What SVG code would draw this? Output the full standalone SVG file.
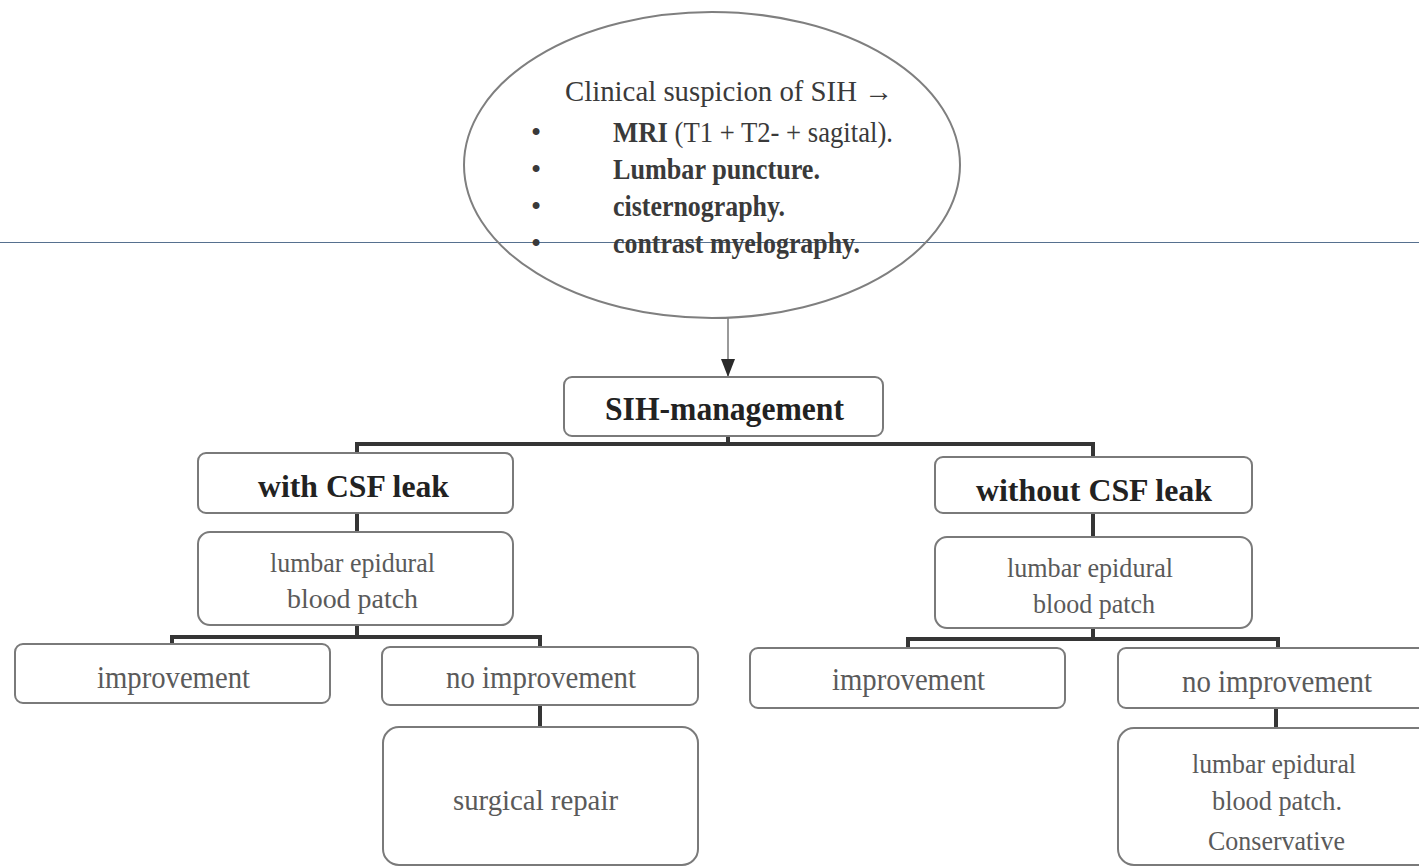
<svg xmlns="http://www.w3.org/2000/svg" width="1419" height="867" viewBox="0 0 1419 867">
<style>
.box{fill:#fff;stroke:#7a7a7a;stroke-width:2}
.conn{fill:none;stroke:#353535;stroke-width:4;stroke-linecap:square}
.t{font-family:"Liberation Serif","Times New Roman",serif}
.b{font-weight:bold;fill:#222}
.r{fill:#5a5a5a}
.e{fill:#3a3a3a;font-size:29px}
</style>
<defs>
<marker id="ah" markerUnits="userSpaceOnUse" markerWidth="18" markerHeight="14" viewBox="0 0 18 14" refX="18" refY="7" orient="auto">
<path d="M0,0 L18,7 L0,14 Z" fill="#2a2a2a"/>
</marker>
</defs>
<rect width="1419" height="867" fill="#fff"/>
<line x1="0" y1="242.5" x2="1419" y2="242.5" stroke="#56708f" stroke-width="1"/>

<g id="connectors">
<line x1="728" y1="318" x2="728" y2="377" stroke="#9a9a9a" stroke-width="2" marker-end="url(#ah)"/>
<path class="conn" d="M728,436 V444 M357,444 H1093 M357,444 V453 M1093,444 V457"/>
<path class="conn" d="M357,513 V532"/>
<path class="conn" d="M357,625 V637 M172,637 H540 M172,637 V644 M540,637 V647"/>
<path class="conn" d="M540,705 V727"/>
<path class="conn" d="M1093,513 V537"/>
<path class="conn" d="M1093,628 V639 M908,639 H1278 M908,639 V648 M1278,639 V648"/>
<path class="conn" d="M1276,708 V728"/>
</g>

<g id="n-suspicion">
<ellipse cx="712" cy="165" rx="248" ry="153" fill="none" stroke="#7f7f7f" stroke-width="2"/>
<text class="t e" x="565" y="101" textLength="328" lengthAdjust="spacingAndGlyphs" fill="#4a4a4a">Clinical suspicion of SIH →</text>
<text class="t e" x="531" y="142">•</text>
<text class="t e" x="531" y="179">•</text>
<text class="t e" x="531" y="216">•</text>
<text class="t e" x="531" y="253">•</text>
<text class="t e" x="613" y="142" textLength="280" lengthAdjust="spacingAndGlyphs"><tspan font-weight="bold">MRI</tspan> (T1 + T2- + sagital).</text>
<text class="t e" x="613" y="179" font-weight="bold" textLength="207" lengthAdjust="spacingAndGlyphs">Lumbar puncture.</text>
<text class="t e" x="613" y="216" font-weight="bold" textLength="172" lengthAdjust="spacingAndGlyphs">cisternography.</text>
<text class="t e" x="613" y="253" font-weight="bold" textLength="247" lengthAdjust="spacingAndGlyphs">contrast myelography.</text>
</g>

<g id="n-sih">
<rect class="box" x="564" y="377" width="319" height="59" rx="8"/>
<text class="t b" x="724.5" y="420" font-size="33" text-anchor="middle" textLength="239" lengthAdjust="spacingAndGlyphs">SIH-management</text>
</g>

<g id="n-with">
<rect class="box" x="198" y="453" width="315" height="60" rx="8"/>
<text class="t b" x="353.5" y="497" font-size="32" text-anchor="middle" textLength="191" lengthAdjust="spacingAndGlyphs">with CSF leak</text>
</g>

<g id="n-without">
<rect class="box" x="935" y="457" width="317" height="56" rx="8"/>
<text class="t b" x="1094" y="501" font-size="32" text-anchor="middle" textLength="236" lengthAdjust="spacingAndGlyphs">without CSF leak</text>
</g>

<g id="n-lebp-left">
<rect class="box" x="198" y="532" width="315" height="93" rx="12"/>
<text class="t r" x="352.5" y="572" font-size="28" text-anchor="middle" textLength="165" lengthAdjust="spacingAndGlyphs">lumbar epidural</text>
<text class="t r" x="352.5" y="608" font-size="28" text-anchor="middle" textLength="131" lengthAdjust="spacingAndGlyphs">blood patch</text>
</g>

<g id="n-lebp-right">
<rect class="box" x="935" y="537" width="317" height="91" rx="12"/>
<text class="t r" x="1090" y="577" font-size="28" text-anchor="middle" textLength="166" lengthAdjust="spacingAndGlyphs">lumbar epidural</text>
<text class="t r" x="1094" y="613" font-size="28" text-anchor="middle" textLength="122" lengthAdjust="spacingAndGlyphs">blood patch</text>
</g>

<g id="n-impr-left">
<rect class="box" x="15" y="644" width="315" height="59" rx="8"/>
<text class="t r" x="173.5" y="688" font-size="31" text-anchor="middle" textLength="153" lengthAdjust="spacingAndGlyphs">improvement</text>
</g>

<g id="n-noimpr-left">
<rect class="box" x="382" y="647" width="316" height="58" rx="8"/>
<text class="t r" x="541" y="688" font-size="31" text-anchor="middle" textLength="190" lengthAdjust="spacingAndGlyphs">no improvement</text>
</g>

<g id="n-surgical">
<rect class="box" x="383" y="727" width="315" height="138" rx="16"/>
<text class="t r" x="535.5" y="810" font-size="30" text-anchor="middle" textLength="165" lengthAdjust="spacingAndGlyphs">surgical repair</text>
</g>

<g id="n-impr-mid">
<rect class="box" x="750" y="648" width="315" height="60" rx="8"/>
<text class="t r" x="908.5" y="690" font-size="31" text-anchor="middle" textLength="153" lengthAdjust="spacingAndGlyphs">improvement</text>
</g>

<g id="n-noimpr-right">
<rect class="box" x="1118" y="648" width="316" height="60" rx="8"/>
<text class="t r" x="1277" y="692" font-size="31" text-anchor="middle" textLength="190" lengthAdjust="spacingAndGlyphs">no improvement</text>
</g>

<g id="n-lebp-cons">
<rect class="box" x="1118" y="728" width="316" height="137" rx="16"/>
<text class="t r" x="1274" y="773" font-size="28" text-anchor="middle" textLength="164" lengthAdjust="spacingAndGlyphs">lumbar epidural</text>
<text class="t r" x="1277" y="810" font-size="28" text-anchor="middle" textLength="130" lengthAdjust="spacingAndGlyphs">blood patch.</text>
<text class="t r" x="1276.5" y="850" font-size="28" text-anchor="middle" textLength="137" lengthAdjust="spacingAndGlyphs">Conservative</text>
</g>
</svg>
